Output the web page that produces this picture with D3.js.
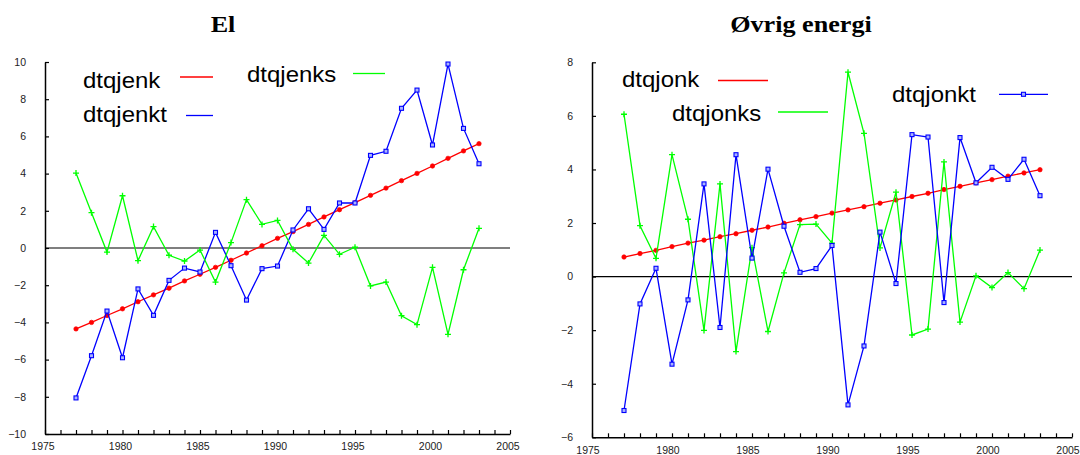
<!DOCTYPE html>
<html>
<head>
<meta charset="utf-8">
<script src="https://cdn.jsdelivr.net/npm/d3@7"></script>
<style>
  body { margin: 0; background: #fff; }
</style>
</head>
<body>
<svg id="chart" width="1080" height="455"></svg>
<script>
// years 1977..2003
const years = d3.range(1977, 2004);

// El
const dtqjenk  = [-4.35, -4.0, -3.63, -3.27, -2.89, -2.52, -2.16, -1.77, -1.41, -1.04, -0.66, -0.27, 0.12, 0.52, 0.88, 1.27, 1.67, 2.06, 2.44, 2.83, 3.22, 3.62, 4.01, 4.41, 4.82, 5.22, 5.61];
const dtqjenkt = [-8.06, -5.79, -3.39, -5.9, -2.2, -3.62, -1.74, -1.08, -1.29, 0.84, -0.95, -2.8, -1.11, -0.97, 0.97, 2.11, 1.0, 2.42, 2.42, 4.98, 5.2, 7.51, 8.49, 5.54, 9.89, 6.43, 4.53];
const dtqjenks = [4.03, 1.9, -0.22, 2.81, -0.68, 1.15, -0.39, -0.7, -0.11, -1.83, 0.29, 2.6, 1.27, 1.48, -0.07, -0.81, 0.68, -0.34, 0.04, -2.04, -1.83, -3.64, -4.12, -1.04, -4.64, -1.17, 1.06];

// Øvrig energi
const dtqjonk  = [0.73, 0.86, 0.98, 1.12, 1.25, 1.36, 1.49, 1.6, 1.73, 1.85, 1.99, 2.12, 2.24, 2.37, 2.49, 2.61, 2.74, 2.86, 2.99, 3.11, 3.25, 3.37, 3.5, 3.62, 3.75, 3.87, 3.99];
const dtqjonkt = [-5.0, -1.02, 0.31, -3.27, -0.87, 3.46, -1.9, 4.55, 0.69, 4.01, 1.88, 0.16, 0.3, 1.16, -4.79, -2.59, 1.66, -0.26, 5.3, 5.21, -0.97, 5.19, 3.5, 4.08, 3.63, 4.38, 3.02];
const dtqjonks = [6.06, 1.9, 0.68, 4.55, 2.14, -2.01, 3.46, -2.8, 1.08, -2.05, 0.14, 1.94, 1.96, 1.25, 7.63, 5.35, 1.07, 3.15, -2.18, -1.96, 4.28, -1.7, 0.03, -0.41, 0.15, -0.45, 0.99];

const xDomain = [1975, 2005];
const xTickLabels = [1975, 1980, 1985, 1990, 1995, 2000, 2005];

const RED = "#ff0000", BLUE = "#0000ff", GREEN = "#00ff00";
const SX = 1.09; // the picture is a little stretched sideways

const svg = d3.select("#chart");

const panels = [
  {
    title: "El", titleX: 223, labelDx: -2.5,
    xr: [45, 510], yr: [434, 62], yDomain: [-10, 10],
    series: [
      {name: "dtqjenk", values: dtqjenk, color: RED, mark: "circle",
       tx: 83, ty: 87.5, line: [180, 213, 77], legendMark: false},
      {name: "dtqjenkt", values: dtqjenkt, color: BLUE, mark: "square",
       tx: 83, ty: 122, line: [186, 213, 115.5], legendMark: false},
      {name: "dtqjenks", values: dtqjenks, color: GREEN, mark: "plus",
       tx: 247, ty: 81.5, line: [353, 385, 73.5], legendMark: false}
    ]
  },
  {
    title: "Øvrig energi", titleX: 801, labelDx: -4.5,
    xr: [592, 1072], yr: [437.3, 62.3], yDomain: [-6, 8],
    series: [
      {name: "dtqjonk", values: dtqjonk, color: RED, mark: "circle",
       tx: 622, ty: 86.5, line: [718, 768, 80.5], legendMark: false},
      {name: "dtqjonks", values: dtqjonks, color: GREEN, mark: "plus",
       tx: 672, ty: 121, line: [778, 828, 112], legendMark: false},
      {name: "dtqjonkt", values: dtqjonkt, color: BLUE, mark: "square",
       tx: 892, ty: 102, line: [999, 1048, 94.3], legendMark: true}
    ]
  }
];

function drawMark(g, type, color) {
  if (type === "circle") {
    g.append("circle").attr("r", 2.2).attr("fill", color).attr("stroke", color).attr("stroke-width", 0.7);
  } else if (type === "square") {
    g.append("rect").attr("x", -2).attr("y", -2).attr("width", 4).attr("height", 4)
      .attr("fill", "#aab4ff").attr("stroke", color).attr("stroke-width", 1.1);
  } else {
    g.append("path").attr("d", "M-3,0H3M0,-3V3").attr("stroke", color).attr("stroke-width", 1.3);
  }
}

panels.forEach(p => {
  const x = d3.scaleLinear().domain(xDomain).range(p.xr);
  const y = d3.scaleLinear().domain(p.yDomain).range(p.yr);

  // title
  svg.append("text")
    .attr("transform", `translate(${p.titleX},32) scale(${SX},1)`)
    .attr("text-anchor", "middle")
    .attr("font-family", "'Liberation Serif', 'Times New Roman', serif")
    .attr("font-weight", "bold")
    .attr("font-size", 24)
    .text(p.title);

  // axes
  const yAxis = d3.axisLeft(y)
    .tickValues(d3.range(p.yDomain[0], p.yDomain[1] + 1, 2))
    .tickSizeInner(-4).tickSizeOuter(0).tickPadding(19);
  const xAxis = d3.axisBottom(x)
    .tickValues(d3.range(xDomain[0], xDomain[1] + 1))
    .tickFormat(d => xTickLabels.includes(d) ? d : "")
    .tickSizeInner(-4).tickSizeOuter(0).tickPadding(9);

  const ga = svg.append("g").attr("transform", `translate(${p.xr[0]},0)`).call(yAxis);
  const gb = svg.append("g").attr("transform", `translate(0,${p.yr[0]})`).call(xAxis);
  [ga, gb].forEach(g => {
    g.selectAll("path.domain").attr("stroke", "#000").attr("stroke-width", 1.5);
    g.selectAll(".tick line").attr("stroke", "#000").attr("stroke-width", 1.2);
    g.selectAll("text").attr("font-family", "'Liberation Sans', Arial, sans-serif")
      .attr("font-size", 10.5).attr("fill", "#222");
  });
  gb.selectAll(".tick text").attr("dx", p.labelDx);

  // zero line
  svg.append("line")
    .attr("x1", p.xr[0]).attr("x2", p.xr[1])
    .attr("y1", y(0)).attr("y2", y(0))
    .attr("stroke", "#000").attr("stroke-width", 1.2);

  // series
  p.series.forEach(s => {
    const pts = years.map((yr, i) => [yr, s.values[i]]);
    svg.append("path")
      .datum(pts)
      .attr("fill", "none")
      .attr("stroke", s.color)
      .attr("stroke-width", 1.3)
      .attr("d", d3.line().x(d => x(d[0])).y(d => y(d[1])));
    svg.append("g").selectAll("g")
      .data(pts)
      .join("g")
        .attr("transform", d => `translate(${x(d[0])},${y(d[1])})`)
        .each(function() { drawMark(d3.select(this), s.mark, s.color); });
  });

  // legend
  p.series.forEach(s => {
    svg.append("text")
      .attr("transform", `translate(${s.tx},${s.ty}) scale(${SX},1)`)
      .attr("font-family", "'Liberation Sans', Arial, sans-serif")
      .attr("font-size", 22)
      .attr("fill", "#000")
      .text(s.name);
    svg.append("line")
      .attr("x1", s.line[0]).attr("x2", s.line[1])
      .attr("y1", s.line[2]).attr("y2", s.line[2])
      .attr("stroke", s.color).attr("stroke-width", 1.3);
    if (s.legendMark) {
      const g = svg.append("g").attr("transform", `translate(${(s.line[0] + s.line[1]) / 2},${s.line[2]})`);
      drawMark(g, s.mark, s.color);
    }
  });
});
</script>
</body>
</html>
